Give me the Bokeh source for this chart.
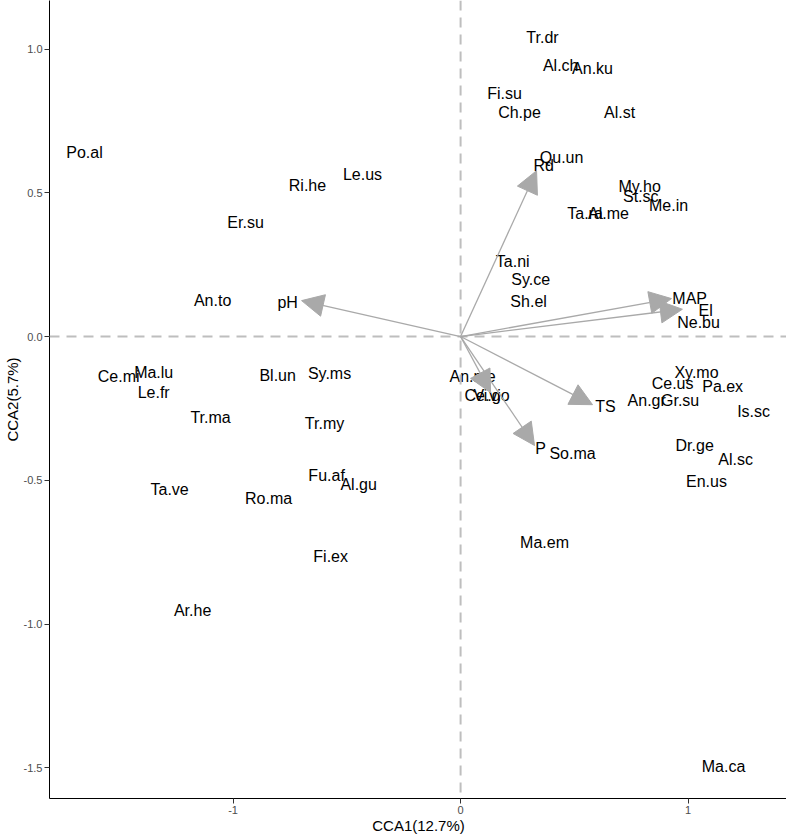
from bokeh.plotting import figure
from bokeh.models import (ColumnDataSource, Range1d, Span, Arrow, NormalHead,
                          FixedTicker, PrintfTickFormatter)
from bokeh.core.properties import value
from bokeh.embed import file_html
from bokeh.resources import INLINE

# ---- species scores (CCA1, CCA2) ----
species = ["Po.al", "Ri.he", "Le.us", "Er.su", "An.to", "Ce.mi", "Ma.lu", "Le.fr",
           "Bl.un", "Sy.ms", "Tr.ma", "Tr.my", "Fu.af", "Al.gu", "Ta.ve", "Ro.ma",
           "Fi.ex", "Ar.he", "An.me", "Ce.vi", "Ma.em", "So.ma", "Ce.us", "Xy.mo",
           "Pa.ex", "An.gr", "Gr.su", "Is.sc", "Dr.ge", "Al.sc", "En.us", "Ma.ca",
           "Ne.bu", "Ta.ni", "Sy.ce", "Sh.el", "Qu.un", "My.ho", "St.sc", "Me.in",
           "Ta.ra", "Al.me", "Fi.su", "Ch.pe", "Al.st", "Tr.dr", "Al.ch", "An.ku"]
cca1 = [-1.653, -0.673, -0.431, -0.945, -1.090, -1.503, -1.349, -1.349,
        -0.804, -0.576, -1.099, -0.598, -0.589, -0.448, -1.279, -0.844,
        -0.571, -1.178, 0.053, 0.097, 0.369, 0.492, 0.932, 1.037,
        1.152, 0.818, 0.965, 1.288, 1.029, 1.209, 1.081, 1.156,
        1.046, 0.229, 0.308, 0.299, 0.444, 0.787, 0.792, 0.914,
        0.547, 0.650, 0.193, 0.259, 0.699, 0.360, 0.440, 0.580]
cca2 = [0.640, 0.525, 0.563, 0.397, 0.125, -0.139, -0.125, -0.195,
        -0.136, -0.129, -0.282, -0.303, -0.483, -0.515, -0.532, -0.563,
        -0.765, -0.953, -0.139, -0.205, -0.717, -0.407, -0.163, -0.125,
        -0.174, -0.223, -0.223, -0.261, -0.379, -0.428, -0.504, -1.496,
        0.049, 0.261, 0.198, 0.122, 0.623, 0.522, 0.487, 0.456,
        0.428, 0.428, 0.845, 0.779, 0.779, 1.040, 0.943, 0.932]

# ---- environmental vectors ----
env_names = ["Rd", "pH", "MAP", "El", "TS", "P", "Vi.go"]
env_x = [0.334, -0.699, 0.927, 0.975, 0.580, 0.325, 0.132]
env_y = [0.577, 0.125, 0.132, 0.095, -0.237, -0.379, -0.195]
env_label_x = [0.365, -0.760, 1.007, 1.077, 0.637, 0.352, 0.136]
env_label_y = [0.595, 0.118, 0.132, 0.090, -0.243, -0.390, -0.205]

x_ticks = [-1, 0, 1]
y_ticks = [-1.5, -1.0, -0.5, 0.0, 0.5, 1.0]

FONT = "Liberation Sans"

p = figure(frame_width=738, frame_height=798,
           x_range=Range1d(-1.807, 1.437), y_range=Range1d(-1.607, 1.169),
           output_backend="svg", toolbar_location=None,
           min_border_left=48, min_border_bottom=42, min_border_top=0,
           min_border_right=0)
p.outline_line_color = None
p.xgrid.visible = False
p.ygrid.visible = False
p.background_fill_color = "white"

# reference lines
p.add_layout(Span(location=0, dimension="height", line_color="#BEBEBE",
                  line_width=2, line_dash="10 7"))
p.add_layout(Span(location=0, dimension="width", line_color="#BEBEBE",
                  line_width=2, line_dash="10 7"))

# species labels
sp_src = ColumnDataSource(dict(x=cca1, y=cca2, label=species))
p.text(x="x", y="y", text="label", source=sp_src, text_font=value(FONT),
       text_font_size="16px", text_align="center", text_baseline="middle",
       text_color="black")

# arrows
arr_src = ColumnDataSource(dict(x0=[0] * len(env_x), y0=[0] * len(env_y),
                                x1=env_x, y1=env_y))
p.add_layout(Arrow(end=NormalHead(size=22, fill_color="#A9A9A9",
                                  line_color="#A9A9A9"),
                   x_start="x0", y_start="y0", x_end="x1", y_end="y1",
                   source=arr_src, line_color="#A9A9A9", line_width=1.3))

env_src = ColumnDataSource(dict(x=env_label_x, y=env_label_y, label=env_names))
p.text(x="x", y="y", text="label", source=env_src, text_font=value(FONT),
       text_font_size="16px", text_align="center", text_baseline="middle",
       text_color="black")

# axes
for ax in (p.xaxis[0], p.yaxis[0]):
    ax.axis_line_color = "black"
    ax.axis_line_width = 1
    ax.major_tick_line_color = "#333333"
    ax.major_tick_out = 5
    ax.major_tick_in = 0
    ax.minor_tick_line_color = None
    ax.major_label_text_font = FONT
    ax.major_label_text_font_size = "11px"
    ax.major_label_text_color = "#4D4D4D"
    ax.axis_label_text_font = FONT
    ax.axis_label_text_font_size = "15px"
    ax.axis_label_text_font_style = "normal"
    ax.axis_label_text_color = "black"
    ax.major_label_standoff = 2
    ax.axis_label_standoff = 0

p.xaxis.ticker = FixedTicker(ticks=x_ticks)
p.xaxis.formatter = PrintfTickFormatter(format="%.0f")
p.yaxis.ticker = FixedTicker(ticks=y_ticks)
p.yaxis.formatter = PrintfTickFormatter(format="%.1f")
p.xaxis.axis_label = "CCA1(12.7%)"
p.yaxis.axis_label = "CCA2(5.7%)"

open("out.html", "w").write(file_html(p, INLINE))
